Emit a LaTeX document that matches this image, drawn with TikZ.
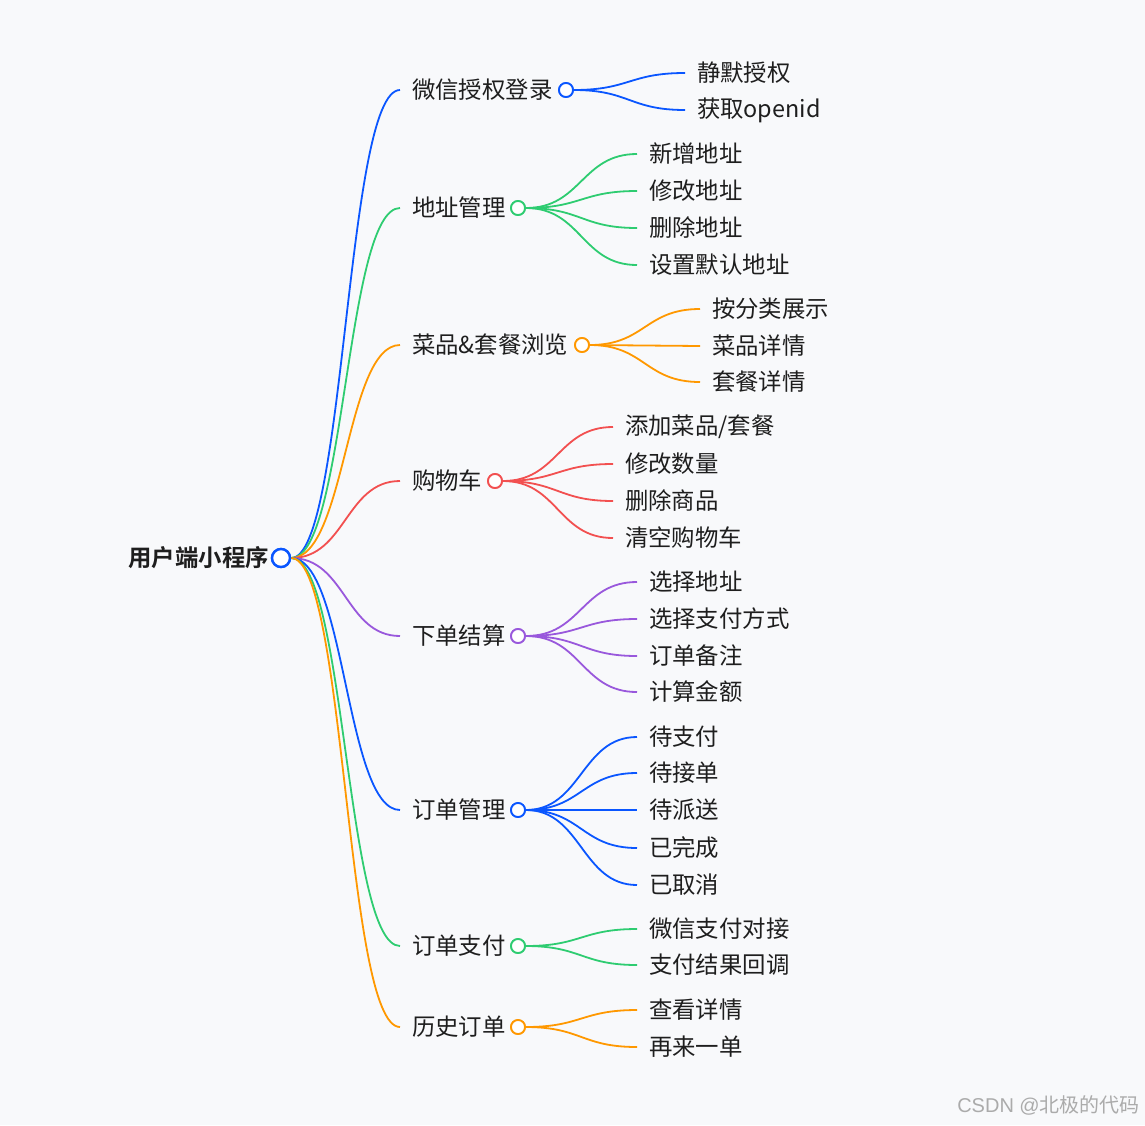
\documentclass[tikz,border=0pt]{standalone}
\usepackage{fontspec}
\setmainfont{Noto Sans CJK SC}[BoldFont={Noto Sans CJK SC Bold}]
\newfontfamily\latinsans{Liberation Sans}
\usetikzlibrary{calc}

\definecolor{bgcol}{RGB}{248,249,251}
\definecolor{txtcol}{RGB}{30,30,30}
\definecolor{cblue}{RGB}{10,86,255}
\definecolor{cgreen}{RGB}{46,204,113}
\definecolor{corange}{RGB}{255,152,0}
\definecolor{cred}{RGB}{242,80,80}
\definecolor{cpurple}{RGB}{153,88,220}

% curve from parent to child, horizontal at both ends
\newcommand{\mlink}[3]{%
  \draw[link, #1] let \p1=(#2), \p2=(#3) in
    (\p1) .. controls ({(\x1+\x2)/2},\y1) and ({(\x1+\x2)/2},\y2) .. (\p2);}

\begin{document}
\begin{tikzpicture}[x=1pt, y=-1pt,
    link/.style={line width=1.8pt},
    dot/.style={circle, draw=#1, fill=white, line width=1.8pt,
      minimum size=14pt, inner sep=0pt},
    rootdot/.style={circle, draw=cblue, fill=white, line width=2.4pt,
      minimum size=18pt, inner sep=0pt},
    btext/.style={anchor=west, inner sep=0pt, outer xsep=12pt,
      text=txtcol, font=\fontsize{23.4}{28}\selectfont},
    ctext/.style={btext}]
  \useasboundingbox[fill=bgcol] (0,0) rectangle (1145,1125);

  % --- Root ---
  \node[rootdot] (rootd) at (281,558) {};
  \node[anchor=east, inner sep=0pt, text=txtcol,
    font=\fontsize{23.4}{28}\selectfont\bfseries] (root) at (269,558) {用户端小程序};

  % --- Branch 1: login ---
  \node[btext] (b1) at (400,90) {微信授权登录};
  \node[dot=cblue] (d1) at (566,90) {};
  \mlink{cblue}{rootd.east}{b1.west}
  \foreach \y/\txt [count=\i] in {73/静默授权, 110/获取openid} {
    \node[ctext] (c1-\i) at (685,\y) {\txt};
    \mlink{cblue}{d1.east}{c1-\i.west}
  }

  % --- Branch 2: address ---
  \node[btext] (b2) at (400,208) {地址管理};
  \node[dot=cgreen] (d2) at (518,208) {};
  \mlink{cgreen}{rootd.east}{b2.west}
  \foreach \y/\txt [count=\i] in {154/新增地址, 191/修改地址, 228/删除地址, 265/设置默认地址} {
    \node[ctext] (c2-\i) at (637,\y) {\txt};
    \mlink{cgreen}{d2.east}{c2-\i.west}
  }

  % --- Branch 3: browse ---
  \node[btext] (b3) at (400,345) {菜品\&套餐浏览};
  \node[dot=corange] (d3) at (582,345) {};
  \mlink{corange}{rootd.east}{b3.west}
  \foreach \y/\txt [count=\i] in {309/按分类展示, 346/菜品详情, 382/套餐详情} {
    \node[ctext] (c3-\i) at (700,\y) {\txt};
    \mlink{corange}{d3.east}{c3-\i.west}
  }

  % --- Branch 4: cart ---
  \node[btext] (b4) at (400,481) {购物车};
  \node[dot=cred] (d4) at (495,481) {};
  \mlink{cred}{rootd.east}{b4.west}
  \foreach \y/\txt [count=\i] in {427/{添加菜品/套餐}, 464/修改数量, 501/删除商品, 538/清空购物车} {
    \node[ctext] (c4-\i) at (613,\y) {\txt};
    \mlink{cred}{d4.east}{c4-\i.west}
  }

  % --- Branch 5: checkout ---
  \node[btext] (b5) at (400,636) {下单结算};
  \node[dot=cpurple] (d5) at (518,636) {};
  \mlink{cpurple}{rootd.east}{b5.west}
  \foreach \y/\txt [count=\i] in {582/选择地址, 619/选择支付方式, 656/订单备注, 692/计算金额} {
    \node[ctext] (c5-\i) at (637,\y) {\txt};
    \mlink{cpurple}{d5.east}{c5-\i.west}
  }

  % --- Branch 6: orders ---
  \node[btext] (b6) at (400,810) {订单管理};
  \node[dot=cblue] (d6) at (518,810) {};
  \mlink{cblue}{rootd.east}{b6.west}
  \foreach \y/\txt [count=\i] in {737/待支付, 773/待接单, 810/待派送, 848/已完成, 885/已取消} {
    \node[ctext] (c6-\i) at (637,\y) {\txt};
    \mlink{cblue}{d6.east}{c6-\i.west}
  }

  % --- Branch 7: payment ---
  \node[btext] (b7) at (400,946) {订单支付};
  \node[dot=cgreen] (d7) at (518,946) {};
  \mlink{cgreen}{rootd.east}{b7.west}
  \foreach \y/\txt [count=\i] in {929/微信支付对接, 965/支付结果回调} {
    \node[ctext] (c7-\i) at (637,\y) {\txt};
    \mlink{cgreen}{d7.east}{c7-\i.west}
  }

  % --- Branch 8: history ---
  \node[btext] (b8) at (400,1027) {历史订单};
  \node[dot=corange] (d8) at (518,1027) {};
  \mlink{corange}{rootd.east}{b8.west}
  \foreach \y/\txt [count=\i] in {1010/查看详情, 1047/再来一单} {
    \node[ctext] (c8-\i) at (637,\y) {\txt};
    \mlink{corange}{d8.east}{c8-\i.west}
  }

  % redraw dots above the curves
  \foreach \n/\c in {d1/cblue, d2/cgreen, d3/corange, d4/cred, d5/cpurple,
      d6/cblue, d7/cgreen, d8/corange}
    \node[dot=\c] at (\n) {};
  \node[rootdot] at (rootd) {};

  % watermark
  \node[anchor=east, inner sep=0pt, text=black!33,
    font=\fontsize{20}{24}\selectfont] (mark) at (1140,1105) {{\latinsans CSDN @}北极的代码};
\end{tikzpicture}
\end{document}
